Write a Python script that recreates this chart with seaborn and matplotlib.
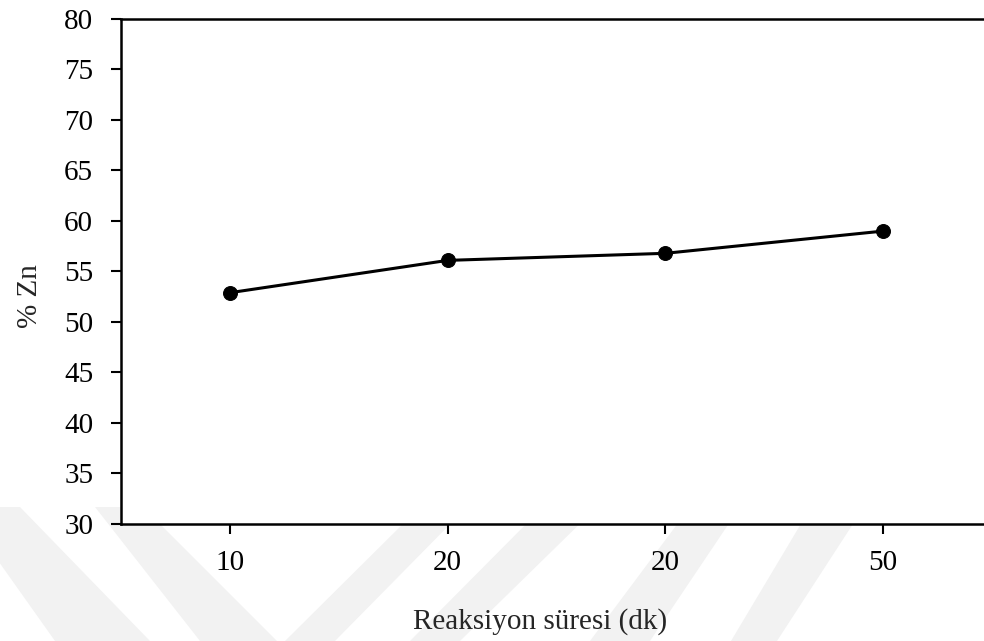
import numpy as np
import pandas as pd
import matplotlib
matplotlib.use("Agg")
import matplotlib.pyplot as plt
from matplotlib.patches import Polygon
import seaborn as sns

# Data
x_labels = ["10", "20", "20", "50"]
zn_percent = [52.9, 56.1, 56.8, 59.0]
y_ticks = [30, 35, 40, 45, 50, 55, 60, 65, 70, 75, 80]

sns.set_style("ticks")
plt.rcParams['font.family'] = ['Liberation Serif', 'DejaVu Serif']

W, H = 984, 641
fig = plt.figure(figsize=(W / 100, H / 100), dpi=100)
fig.patch.set_facecolor("white")

# faint background watermark stripes (pixel coords: top y=507, bottom y=641)
stripes = [
    ((-40, 20), (55, 150)),
    ((95, 143), (200, 277)),
    ((420, 467), (285, 335)),
    ((543, 597), (410, 460)),
    ((690, 740), (590, 650)),
    ((811, 864), (731, 777)),
]
yt, yb = 507, 641
for (tl, tr), (bl, br) in stripes:
    pts = [(tl, yt), (tr, yt), (br, yb), (bl, yb)]
    pts = [(px / W, 1 - py / H) for px, py in pts]
    fig.patches.append(Polygon(pts, closed=True, transform=fig.transFigure,
                               facecolor="#f2f2f2", edgecolor="none", zorder=-5))

left, right, top, bottom = 121, 984, 19, 524
ax = fig.add_axes([left / W, 1 - bottom / H, (right - left) / W, (bottom - top) / H])
ax.set_facecolor("white")
ax.set_zorder(1)
ax.patch.set_alpha(1.0)

df = pd.DataFrame({"pos": np.arange(len(x_labels)), "zn": zn_percent})
sns.lineplot(data=df, x="pos", y="zn", ax=ax, color="black", linewidth=2.2,
             marker="o", markersize=10, markeredgecolor="black",
             markerfacecolor="black")

ax.set_ylim(30, 80)
ax.set_yticks(y_ticks)
ax.set_xlim(-0.5, 3 + (984 - 883) / 217.7)
ax.set_xticks(np.arange(len(x_labels)))
ax.set_xticklabels(x_labels)

for s in ["left", "bottom", "top"]:
    ax.spines[s].set_linewidth(1.8)
    ax.spines[s].set_color("black")
ax.spines["right"].set_visible(False)

ax.tick_params(axis="both", direction="out", length=7, width=1.5,
               labelsize=21, colors="black")
ax.tick_params(axis="y", pad=13)
ax.tick_params(axis="x", pad=12)

ax.set_xlabel("Reaksiyon süresi (dk)", fontsize=21, va="center", ha="center")
ax.set_ylabel("% Zn", fontsize=21, va="center", ha="center")
ax.xaxis.set_label_coords((540 - left) / (right - left), (bottom - 622) / (bottom - top))
ax.yaxis.set_label_coords((30 - left) / (right - left), (bottom - 296) / (bottom - top))

fig.savefig("out.png", dpi=100, facecolor="white")
